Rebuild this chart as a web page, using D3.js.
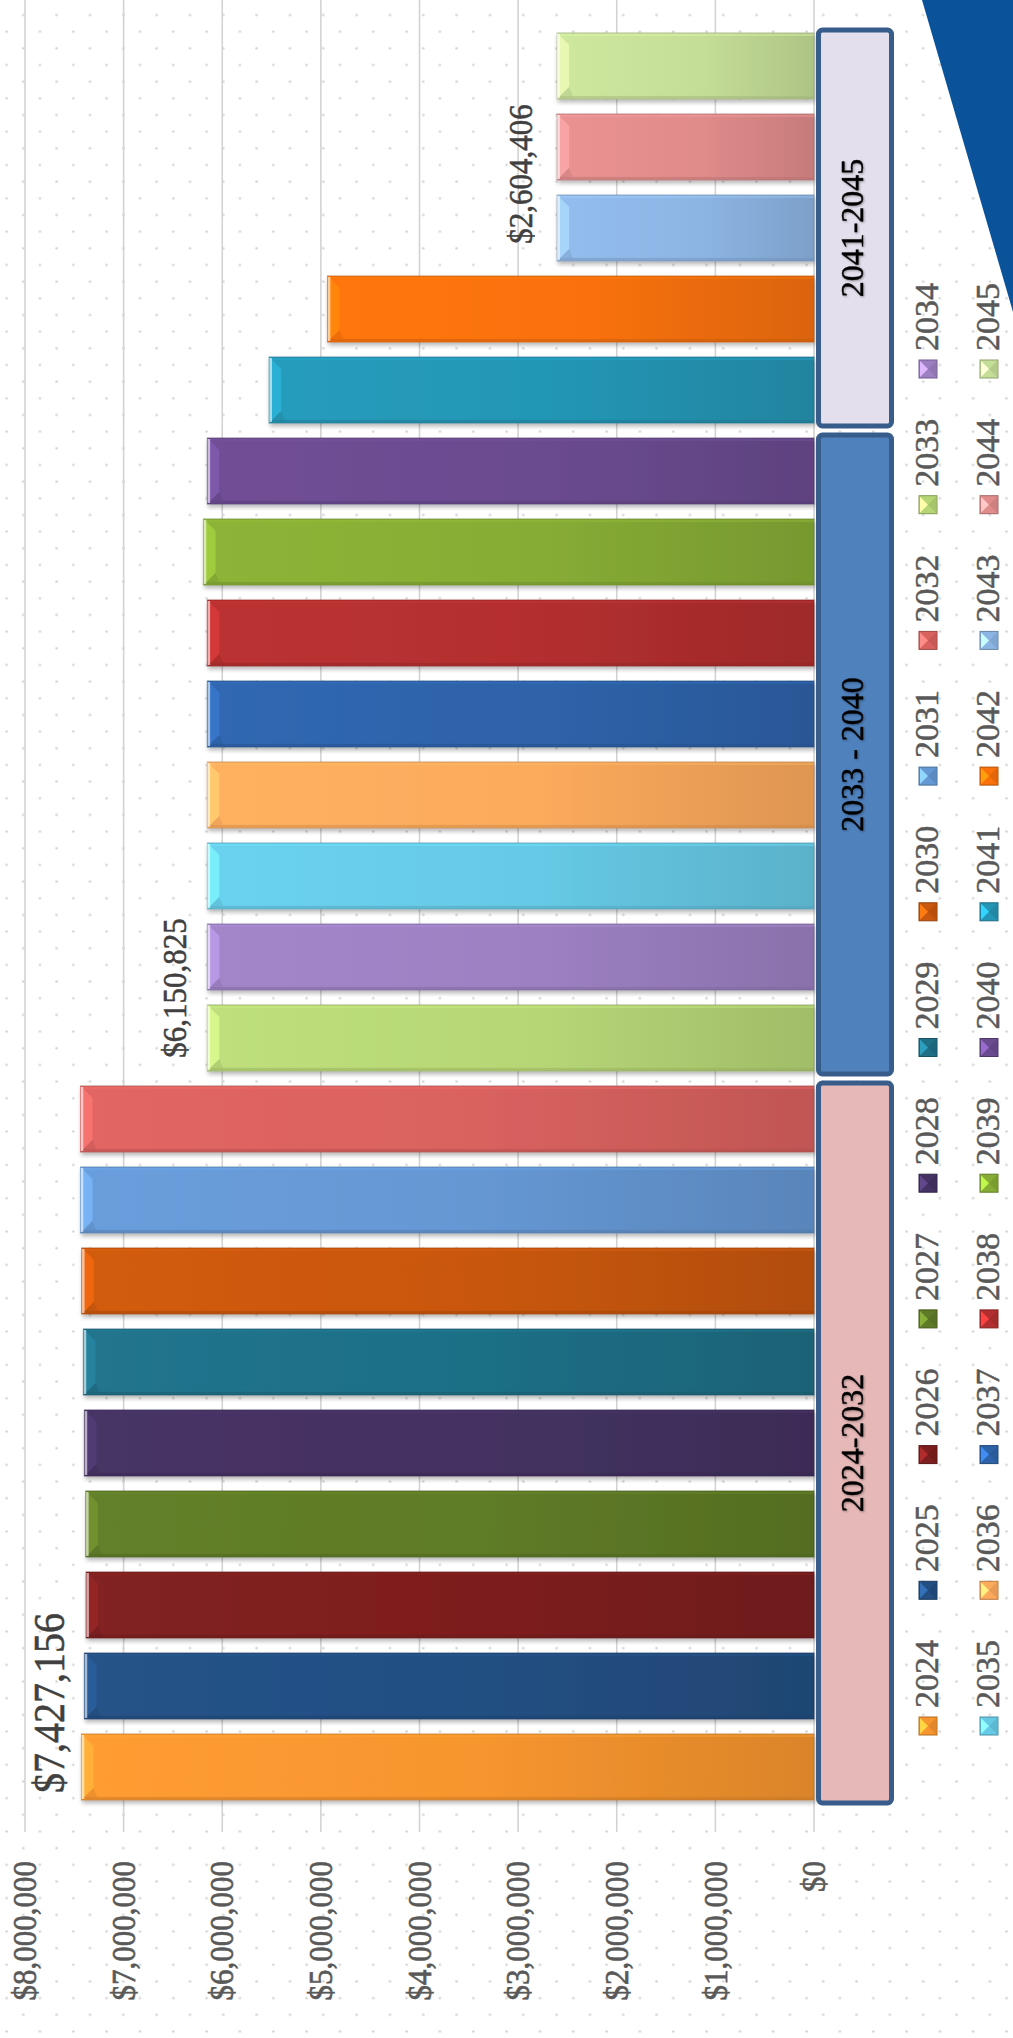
<!DOCTYPE html>
<html>
<head>
<meta charset="utf-8">
<script src="https://cdn.jsdelivr.net/npm/d3@7"></script>
<style>
  html, body { margin: 0; padding: 0; background: #ffffff; }
  svg { display: block; }
  svg text { font-family: "Liberation Serif", "Times New Roman", serif; }
</style>
</head>
<body>
<svg id="chart" width="1013" height="2038"></svg>
<script>
// ---------- DATA ----------
const years = ["2024","2025","2026","2027","2028","2029","2030","2031","2032",
               "2033","2034","2035","2036","2037","2038","2039","2040",
               "2041","2042","2043","2044","2045"];
const values = [7427156, 7397000, 7380000, 7383000, 7397000, 7407000, 7424000, 7437000, 7437000,
                6150825, 6150825, 6150825, 6150825, 6150825, 6150825, 6190000, 6150825,
                5524000, 4932000, 2604406, 2604406, 2604406];
const barColors = ["#f7952f","#234f82","#7d1f1f","#5f7b27","#443262","#1f6f86","#c9570d","#6597d3","#d9625f",
                   "#b6d676","#9c80c2","#66c9e5","#fcaa5c","#2e63aa","#b32f2f","#87ac35","#6b4b90",
                   "#2495b4","#f8710a","#8db5e4","#e08c8b","#c5de97"];
const tickValues = [0, 1000000, 2000000, 3000000, 4000000, 5000000, 6000000, 7000000, 8000000];
const groupLabels = ["2024-2032", "2033 - 2040", "2041-2045"];
const groupFirst = ["2024", "2033", "2041"];
const groupLast  = ["2032", "2040", "2045"];
const groupFills = ["#e6b8b8", "#4f81bd", "#e4dfec"];
const labelYears = ["2024", "2033", "2043"];
const legendRow1 = years.slice(0, 11);
const legendRow2 = years.slice(11);

// ---------- SETUP (chart drawn in an unrotated 2038 x 1013 frame, then turned -90deg) ----------
const W = 2038, H = 1013;
const SERIF = '"Liberation Serif", "Times New Roman", serif';
const svg = d3.select("#chart");
const defs = svg.append("defs");

// dotted background
const pat = defs.append("pattern").attr("id", "dots")
  .attr("patternUnits", "userSpaceOnUse")
  .attr("x", -1.7).attr("y", 6.67).attr("width", 33.33).attr("height", 33.33);
pat.append("circle").attr("cx", 25).attr("cy", 8.33).attr("r", 1.3).attr("fill", "#d4d4d4");
pat.append("circle").attr("cx", 8.33).attr("cy", 25).attr("r", 1.3).attr("fill", "#d4d4d4");
svg.append("rect").attr("width", 1013).attr("height", 2038).attr("fill", "#ffffff");
svg.append("rect").attr("width", 1013).attr("height", 2038).attr("fill", "url(#dots)");

const shadow = defs.append("filter").attr("id", "barShadow")
  .attr("x", "-10%").attr("y", "-10%").attr("width", "120%").attr("height", "120%");
shadow.append("feDropShadow").attr("dx", -3).attr("dy", 1).attr("stdDeviation", 2)
  .attr("flood-color", "#000").attr("flood-opacity", 0.28);

const textGlow = defs.append("filter").attr("id", "textGlow")
  .attr("x", "-10%").attr("y", "-30%").attr("width", "120%").attr("height", "160%");
textGlow.append("feDropShadow").attr("dx", -1).attr("dy", 1).attr("stdDeviation", 1.2)
  .attr("flood-color", "#000").attr("flood-opacity", 0.35);

const g = svg.append("g").attr("transform", `translate(0,${2038}) rotate(-90)`)
  .style("font-family", SERIF);

// scales
const x = d3.scaleBand().domain(years).range([238, 2005]).paddingInner(0.185).paddingOuter(0);
const y = d3.scaleLinear().domain([0, 8000000]).range([814, 25]);
const bw = x.bandwidth();
const fmt = d3.format("$,");

// blue corner triangle
g.append("path")
  .attr("d", `M${W},${922} L${W},${H} L${1726},${H} Z`)
  .attr("fill", "#0a539b");

// gridlines
g.append("g").selectAll("line").data(tickValues).join("line")
  .attr("x1", 206).attr("x2", W)
  .attr("y1", d => y(d)).attr("y2", d => y(d))
  .attr("stroke", "#d3d3d3").attr("stroke-width", 1.6);

// value axis labels
const axis = d3.axisLeft(y).tickValues(tickValues).tickFormat(fmt).tickSize(0).tickPadding(29);
const axG = g.append("g").attr("transform", "translate(206,0)").call(axis);
axG.select(".domain").remove();
axG.attr("font-family", null);
axG.selectAll("text")
  .style("font-family", SERIF)
  .attr("font-size", 31)
  .attr("transform", "scale(1,1.08)")
  .attr("fill", "#595959")
  .attr("stroke", "#595959").attr("stroke-width", 0.6);

// gradients + bars
years.forEach((yr, i) => {
  const c = d3.color(barColors[i]);
  const grad = defs.append("linearGradient").attr("id", "g" + yr)
    .attr("x1", 0).attr("y1", 0).attr("x2", 0).attr("y2", 1);
  grad.append("stop").attr("offset", "0%").attr("stop-color", c.brighter(0.12).formatHex());
  grad.append("stop").attr("offset", "55%").attr("stop-color", c.formatHex());
  grad.append("stop").attr("offset", "100%").attr("stop-color", c.darker(0.35).formatHex());
});

const bars = g.append("g").selectAll("g.bar").data(years).join("g").attr("class", "bar");
bars.append("rect")
  .attr("x", d => x(d))
  .attr("y", (d, i) => y(values[i]))
  .attr("width", bw)
  .attr("height", (d, i) => y(0) - y(values[i]))
  .attr("fill", d => `url(#g${d})`)
  .attr("stroke", (d, i) => d3.color(barColors[i]).darker(0.9).formatHex())
  .attr("stroke-opacity", 0.55)
  .attr("stroke-width", 1.2)
  .attr("filter", "url(#barShadow)");
// thin long edges
bars.append("rect")
  .attr("x", d => x(d) + 0.6)
  .attr("y", (d, i) => y(values[i]))
  .attr("width", 2.5)
  .attr("height", (d, i) => y(0) - y(values[i]))
  .attr("fill", (d, i) => d3.color(barColors[i]).darker(0.6).formatHex())
  .attr("opacity", 0.5);
bars.append("rect")
  .attr("x", d => x(d) + bw - 3)
  .attr("y", (d, i) => y(values[i]))
  .attr("width", 2.4)
  .attr("height", (d, i) => y(0) - y(values[i]))
  .attr("fill", (d, i) => d3.color(barColors[i]).brighter(0.4).formatHex())
  .attr("opacity", 0.35);
// top bevel
const bev = 12;
bars.append("path")
  .attr("d", (d, i) => {
    const x0 = x(d), x1 = x(d) + bw, t = y(values[i]);
    return `M${x0},${t} L${x1},${t} L${x1 - bev},${t + bev} L${x0 + bev},${t + bev} Z`;
  })
  .attr("fill", (d, i) => d3.color(barColors[i]).brighter(0.6).formatHex())
  .attr("opacity", 0.7);
bars.append("path")
  .attr("d", (d, i) => {
    const x0 = x(d), t = y(values[i]);
    return `M${x0},${t} L${x0 + bev},${t + bev} L${x0 + 2},${t + bev + 4} L${x0},${t + bev + 4} Z`;
  })
  .attr("fill", (d, i) => d3.color(barColors[i]).darker(0.3).formatHex())
  .attr("opacity", 0.5);
bars.append("line")
  .attr("x1", d => x(d) + 1).attr("x2", d => x(d) + bw - 1)
  .attr("y1", (d, i) => y(values[i]) + 1.5).attr("y2", (d, i) => y(values[i]) + 1.5)
  .attr("stroke", "#ffffff").attr("stroke-opacity", 0.6).attr("stroke-width", 2.5);

// data labels
const labelSizes = [40, 31, 31];
const labelOffset = [16, 2, 6];
const labelGap = [17, 21, 25];
g.append("g").selectAll("text").data(labelYears).join("text")
  .attr("transform", (d, i) =>
    `translate(${x(d) + x.step() + labelOffset[i]},${y(values[years.indexOf(d)]) - labelGap[i]}) scale(1,1.1)`)
  .attr("text-anchor", "middle")
  .style("font-family", SERIF)
  .attr("font-size", (d, i) => labelSizes[i])
  .attr("fill", "#404040")
  .attr("stroke", "#404040").attr("stroke-width", 0.5)
  .text(d => fmt(values[years.indexOf(d)]));

// group boxes
const boxes = g.append("g").selectAll("g").data(groupLabels).join("g");
boxes.append("rect")
  .attr("x", (d, i) => x(groupFirst[i]) - 3)
  .attr("width", (d, i) => x(groupLast[i]) + bw + 6 - x(groupFirst[i]))
  .attr("y", 818.5).attr("height", 73)
  .attr("rx", 4)
  .attr("fill", (d, i) => groupFills[i])
  .attr("stroke", "#385d8a").attr("stroke-width", 5);
boxes.append("text")
  .attr("x", (d, i) => (x(groupFirst[i]) - 3 + x(groupLast[i]) + bw + 3) / 2)
  .attr("y", 863)
  .attr("text-anchor", "middle")
  .style("font-family", SERIF)
  .attr("font-size", 32)
  .attr("fill", "#000000")
  .attr("stroke", "#000000").attr("stroke-width", 0.4)
  .attr("filter", "url(#textGlow)")
  .text(d => d);

// legend
const legendStep = 135.7, legendX0 = 303;
function legendRow(items, rowY) {
  const it = g.append("g").selectAll("g").data(items).join("g")
    .attr("transform", (d, i) => `translate(${legendX0 + i * legendStep},${rowY})`);
  const col = d => d3.color(barColors[years.indexOf(d)]);
  it.append("rect").attr("width", 18).attr("height", 18)
    .attr("fill", d => col(d).formatHex())
    .attr("stroke", d => col(d).darker(0.9).formatHex())
    .attr("stroke-width", 1);
  it.append("path").attr("d", "M1,1 L17,1 L9,9 Z")
    .attr("fill", d => col(d).brighter(1.0).formatHex());
  it.append("path").attr("d", "M1,17 L17,17 L9,9 Z")
    .attr("fill", d => col(d).darker(0.25).formatHex());
  it.append("text").attr("x", 27).attr("y", 19)
    .style("font-family", SERIF)
    .attr("font-size", 34)
    .attr("fill", "#595959")
    .attr("stroke", "#595959").attr("stroke-width", 0.5)
    .text(d => d);
}
legendRow(legendRow1, 919);
legendRow(legendRow2, 980);
</script>
</body>
</html>
